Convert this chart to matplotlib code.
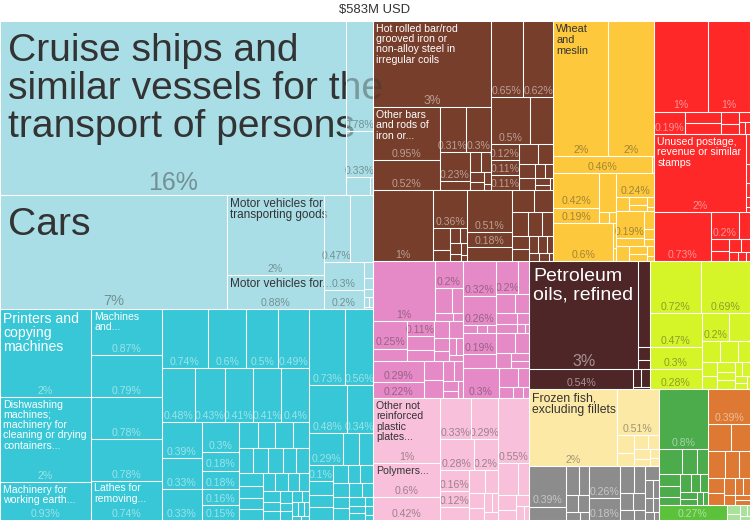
import matplotlib
matplotlib.use("Agg")
import matplotlib.pyplot as plt
from matplotlib.patches import Rectangle
from matplotlib.collections import PatchCollection

plt.rcParams["font.family"] = ["Liberation Sans", "DejaVu Sans"]

TITLE = "$583M USD"

# ---------------- data: share of total exports (%) ----------------
# Transportation
ships = [16.09, 0.78, 0.33, 0.11, 0.015]
ships_names = ["Cruise ships and\nsimilar vessels for the\ntransport of persons"]
vehicles = [6.9, 2.07, 0.88, 0.47, 0.41, 0.3, 0.2, 0.04, 0.03, 0.02, 0.015, 0.01, 0.005]
vehicles_names = ["Cars", "Motor vehicles for\ntransporting goods", "Motor vehicles for..."]
# Machines
machinery = [2.14, 2.07, 0.93, 0.87, 0.79, 0.78, 0.78, 0.74, 0.74, 0.6, 0.5, 0.49, 0.48,
             0.43, 0.41, 0.41, 0.4, 0.39, 0.33, 0.33, 0.3, 0.18, 0.18, 0.16, 0.15, 0.13,
             0.12, 0.12, 0.11, 0.1, 0.1, 0.1, 0.09, 0.09, 0.08, 0.08, 0.07, 0.07, 0.06,
             0.06, 0.05, 0.05, 0.05, 0.04, 0.04, 0.04, 0.03, 0.03, 0.03, 0.02, 0.02, 0.02,
             0.02, 0.01, 0.01]
machinery_names = ["Printers and\ncopying\nmachines",
                   "Dishwashing\nmachines;\nmachinery for\ncleaning or drying\ncontainers...",
                   "Machinery for\nworking earth...", "Machines\nand...", "", "", "",
                   "Lathes for\nremoving..."]
electrical = [0.73, 0.56, 0.48, 0.34, 0.29, 0.14, 0.12, 0.1, 0.09, 0.08, 0.08, 0.07, 0.06,
              0.06, 0.06, 0.05, 0.05, 0.05, 0.04, 0.04, 0.03, 0.03, 0.02, 0.02, 0.01]
# Metals
iron_steel = [2.71, 0.95, 0.52, 0.31, 0.3, 0.23, 0.07, 0.06, 0.05, 0.04, 0.03, 0.02, 0.01]
iron_steel_names = ["Hot rolled bar/rod\ngrooved iron or\nnon-alloy steel in\nirregular coils",
                    "Other bars\nand rods of\niron or..."]
steel_b = [0.65, 0.62, 0.5, 0.29, 0.12, 0.11, 0.11, 0.1, 0.08, 0.06, 0.05, 0.04, 0.03, 0.03,
           0.02, 0.01]
steel_articles = [1.13, 0.36, 0.1, 0.05, 0.04, 0.03, 0.03, 0.02, 0.02, 0.01]
other_metals = [0.51, 0.18, 0.16, 0.13, 0.12, 0.1, 0.09, 0.07, 0.06, 0.05, 0.04, 0.04, 0.03,
                0.02, 0.02, 0.01]
# Vegetable products
cereals = [1.96, 1.67, 0.46, 0.01]
cereals_names = ["Wheat\nand\nmeslin"]
veg_a = [0.42, 0.19, 0.18, 0.03, 0.02]
veg_c = [0.6, 0.02, 0.01]
veg_b1 = [0.24, 0.05, 0.04, 0.03, 0.02, 0.01]
veg_b2 = [0.19, 0.06, 0.05, 0.03, 0.02]
veg_b3 = [0.05, 0.04, 0.03, 0.02, 0.01]
# Paper goods / stamps
paper_p = [1.29, 1.02, 0.19, 0.11, 0.11, 0.06, 0.05, 0.03, 0.02, 0.015]
paper_u = [1.9, 0.03, 0.02, 0.015, 0.01, 0.005]
paper_u_names = ["Unused postage,\nrevenue or similar\nstamps"]
paper_q = [0.73, 0.2, 0.08, 0.06, 0.05, 0.04, 0.03, 0.02, 0.02, 0.01]
# Chemical products
chem_a1 = [1.0, 0.2, 0.11, 0.07, 0.04, 0.02]
chem_a2 = [0.25, 0.11, 0.11, 0.1, 0.08, 0.07, 0.06, 0.05, 0.04, 0.03, 0.03, 0.02]
chem_c = [0.29, 0.22, 0.1, 0.09, 0.06, 0.05, 0.04, 0.03, 0.02]
chem_b1 = [0.32, 0.26, 0.03, 0.02, 0.02]
chem_b2 = [0.2, 0.1, 0.09, 0.07, 0.06, 0.05, 0.04, 0.02, 0.01]
chem_d1 = [0.19, 0.12, 0.1, 0.08, 0.06, 0.04, 0.03]
chem_d2 = [0.3, 0.1, 0.06, 0.04, 0.03, 0.02]
# Plastics and rubbers
plastics = [1.16, 0.6, 0.42, 0.33, 0.29, 0.28, 0.2, 0.16, 0.12, 0.1, 0.1, 0.08, 0.06, 0.05,
            0.04, 0.03, 0.03]
plastics_names = ["Other not\nreinforced\nplastic\nplates...", "Polymers..."]
rubber = [0.55, 0.17, 0.1, 0.07, 0.05, 0.04, 0.03, 0.02]
# Mineral products
fuels = [3.15, 0.27, 0.04, 0.03]
fuels_names = ["Petroleum\noils, refined"]
minerals = [0.54, 0.04, 0.04, 0.01]
# Foodstuffs
foodstuffs = [0.72, 0.69, 0.47, 0.3, 0.28, 0.2, 0.15, 0.1, 0.1, 0.07, 0.06, 0.05, 0.05,
              0.04, 0.04, 0.03, 0.03, 0.02, 0.02, 0.01]
# Animal products
fish = [1.81, 0.51, 0.08, 0.06, 0.05, 0.04, 0.04, 0.03, 0.02, 0.02]
fish_names = ["Frozen fish,\nexcluding fillets"]
# Miscellaneous (grey)
misc_a = [0.39, 0.13, 0.1, 0.08, 0.06, 0.05, 0.03, 0.02]
misc_b = [0.26, 0.18, 0.1, 0.08, 0.06, 0.05, 0.04, 0.03]
misc_c = [0.05, 0.04, 0.03, 0.03, 0.02, 0.02, 0.01]
# Textiles, wood and small groups
textiles = [0.8, 0.16, 0.1, 0.08, 0.07, 0.06, 0.05, 0.05, 0.04, 0.04, 0.03, 0.03, 0.02, 0.02]
wood = [0.39, 0.16, 0.14, 0.12, 0.1, 0.08, 0.06, 0.05, 0.05, 0.04, 0.03, 0.03, 0.02, 0.02]
footwear = [0.27]
others_small = [0.03, 0.02, 0.02, 0.01, 0.01]

# ---------------- hierarchy built from the lists (colour, light text?, chapters) ----------------
sections = [
    ("#a9dee6", False, [(ships, ships_names), (vehicles, vehicles_names)]),
    ("#38c7d6", True, [(machinery, machinery_names), (electrical, [])]),
    ("#763e2b", True, [(iron_steel, iron_steel_names), (steel_b, []),
                       (steel_articles, []), (other_metals, [])]),
    ("#fdc83c", False, [(cereals, cereals_names), (veg_a, []), (veg_c, []),
                        (veg_b1, []), (veg_b2, []), (veg_b3, [])]),
    ("#fe2828", True, [(paper_p, []), (paper_u, paper_u_names), (paper_q, [])]),
    ("#e68ac7", False, [(chem_a1, []), (chem_a2, []), (chem_c, []), (chem_b1, []),
                        (chem_b2, []), (chem_d1, []), (chem_d2, [])]),
    ("#f8c0da", False, [(plastics, plastics_names), (rubber, [])]),
    ("#4e2627", True, [(fuels, fuels_names), (minerals, [])]),
    ("#d6f528", False, [(foodstuffs, [])]),
    ("#fde9a6", False, [(fish, fish_names)]),
    ("#8c8c8c", True, [(misc_a, []), (misc_b, []), (misc_c, [])]),
    ("#4cab4a", True, [(textiles, [])]),
    ("#dd7932", True, [(wood, [])]),
    ("#5cc23c", True, [(footwear, [])]),
    ("#a8e29b", False, [(others_small, [])]),
]

# styles (px) for the big labels
NAME_PX = {ships_names[0]: 39, "Cars": 39, fuels_names[0]: 19.5, machinery_names[0]: 14,
           vehicles_names[1]: 11.7, vehicles_names[2]: 11.7, fish_names[0]: 12.3,
           cereals_names[0]: 11}
PCT_PX = {ships_names[0]: 25, "Cars": 14.5, fuels_names[0]: 16, iron_steel_names[0]: 12}
DEFAULT_PX = 10.5
PT = 0.72  # points per pixel at 100 dpi

PHI = (1 + 5 ** 0.5) / 2


def squarify(values, x0, y0, x1, y1):
    """d3 squarified treemap (golden ratio), values sorted descending."""
    n = len(values)
    rects = [None] * n
    value = float(sum(values))
    i0 = i1 = 0
    while i0 < n:
        dx, dy = x1 - x0, y1 - y0
        sum_v = values[i1]
        i1 += 1
        min_v = max_v = sum_v
        alpha = max(dy / dx, dx / dy) / (value * PHI)
        beta = sum_v * sum_v * alpha
        min_ratio = max(max_v / beta, beta / min_v)
        while i1 < n:
            nv = values[i1]
            s = sum_v + nv
            mn, mx = min(min_v, nv), max(max_v, nv)
            beta = s * s * alpha
            r = max(mx / beta, beta / mn)
            if r > min_ratio:
                break
            sum_v, min_v, max_v, min_ratio = s, mn, mx, r
            i1 += 1
        frac = sum_v / value if i1 < n else 1.0
        if dx < dy:
            yb = y0 + dy * frac
            x = x0
            for i in range(i0, i1):
                w = dx * values[i] / sum_v
                rects[i] = (x, y0, x + w, yb)
                x += w
            y0 = yb
        else:
            xb = x0 + dx * frac
            y = y0
            for i in range(i0, i1):
                h = dy * values[i] / sum_v
                rects[i] = (x0, y, xb, y + h)
                y += h
            x0 = xb
        value -= sum_v
        i0 = i1
    return rects


def sec_total(sec):
    return sum(sum(ch[0]) for ch in sec[2])


AREA = (0, 21, 750, 520)
secs = sorted(sections, key=sec_total, reverse=True)
sec_rects = squarify([sec_total(s) for s in secs], *AREA)

leaves = []  # (rect, value, name, color, light)
for (color, light, chapters), srect in zip(secs, sec_rects):
    chs = sorted(chapters, key=lambda c: sum(c[0]), reverse=True)
    ch_rects = squarify([sum(c[0]) for c in chs], *srect)
    for (vals, names), crect in zip(chs, ch_rects):
        items = [(v, names[i] if i < len(names) else "") for i, v in enumerate(vals)]
        items = sorted(items, key=lambda t: t[0], reverse=True)
        lrects = squarify([t[0] for t in items], *crect)
        for (v, nm), r in zip(items, lrects):
            leaves.append((r, v, nm, color, light))


def fmt(v):
    if v >= 1:
        return "%d%%" % int(round(v))
    s = ("%.2f" % v).rstrip("0").rstrip(".")
    return s + "%"


CW = {".": 0.278, "%": 0.889}


def text_w(s, px):
    return sum(CW.get(c, 0.556) for c in s) * px


fig = plt.figure(figsize=(7.5, 5.2), dpi=100)
ax = fig.add_axes([0, 0, 1, 1])
ax.set_xlim(0, 750)
ax.set_ylim(520, 0)
ax.axis("off")

base = [Rectangle((r[0], r[1]), r[2] - r[0], r[3] - r[1]) for r, *_ in leaves]
ax.add_collection(PatchCollection(base, facecolors=[l[3] for l in leaves],
                                  edgecolors="none", zorder=1))

for i, (r, v, nm, color, light) in enumerate(leaves):
    x0, y0, x1, y1 = r
    w, h = x1 - x0, y1 - y0
    z = 10 + 3 * i
    ax.add_patch(Rectangle((x0, y0), w, h, facecolor=color, alpha=0.6,
                           edgecolor="none", zorder=z))
    tc = "white" if light else "#333333"
    if nm:
        fpx = NAME_PX.get(nm, DEFAULT_PX)
        padx = max(3.0, 0.2 * fpx)
        for k, line in enumerate(nm.split("\n")):
            ax.text(x0 + padx, y0 + 1.02 * fpx + k * 0.98 * fpx, line,
                    fontsize=fpx * PT, color=tc, ha="left", va="baseline",
                    zorder=z + 1, clip_on=False)
    ppx = PCT_PX.get(nm, DEFAULT_PX)
    lab = fmt(v)
    if text_w(lab, ppx) <= w + 4 and h >= 14:
        ax.text((x0 + x1) / 2, y1 - 2 - 0.1 * ppx, lab, fontsize=ppx * PT,
                color=tc, alpha=0.5 if light else 0.45, ha="center",
                va="baseline", zorder=z + 1)

edges = [Rectangle((r[0], r[1]), r[2] - r[0], r[3] - r[1]) for r, *_ in leaves]
ax.add_collection(PatchCollection(edges, facecolors="none", edgecolors="white",
                                  linewidths=0.75, zorder=100000))

ax.text(375, 10.5, TITLE, ha="center", va="center", fontsize=13 * PT, color="#333333")

fig.savefig("out.png", dpi=100)
